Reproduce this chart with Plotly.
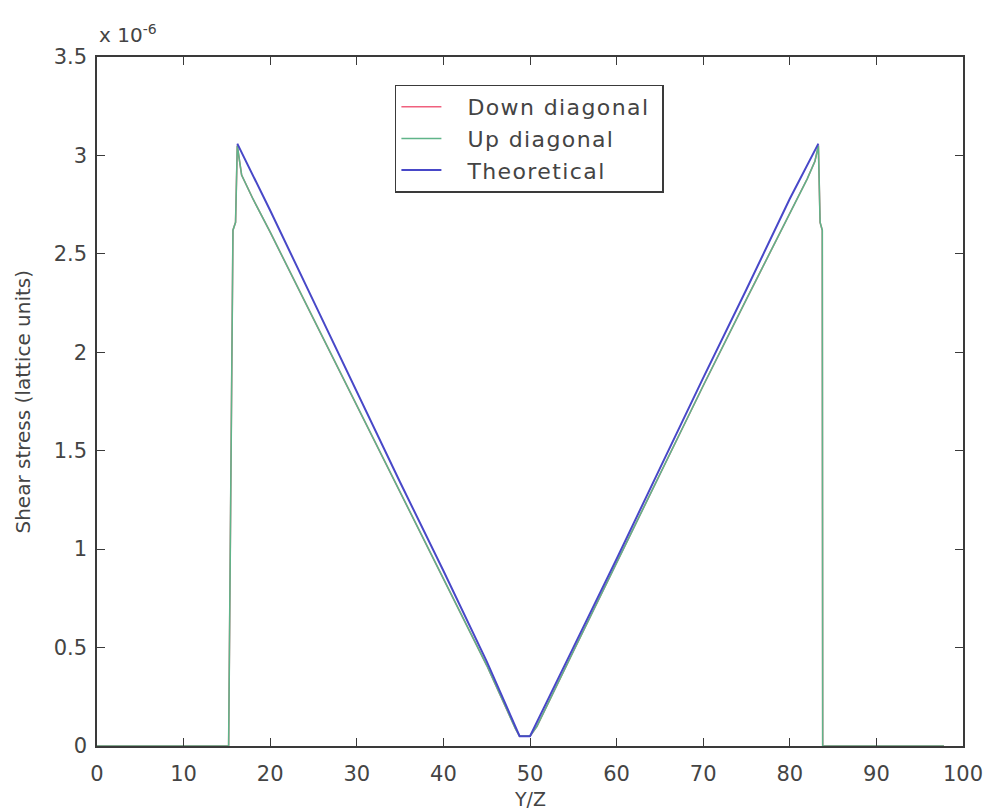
import plotly.graph_objects as go

# Position across the channel (Y/Z) and shear stress in units of 1e-6 (lattice units)
up_x = [0, 15.2, 15.7, 16.0, 16.2, 16.7, 18, 20, 25, 30, 35, 40, 45, 48.3, 48.8,
        50.0, 50.8, 55, 60, 65, 70, 75, 80, 82, 82.9, 83.3, 83.5, 83.75, 83.8, 97.8]
up_tau = [0, 0, 2.62, 2.66, 3.05, 2.90, 2.78, 2.61, 2.17, 1.73, 1.29, 0.85, 0.41, 0.09, 0.05,
          0.05, 0.10, 0.48, 0.93, 1.38, 1.83, 2.27, 2.71, 2.88, 2.97, 3.05, 2.66, 2.62, 0, 0]

down_x = [0, 15.2, 15.7, 16.0, 16.2, 16.7, 18, 20, 25, 30, 35, 40, 45, 48.3, 48.8,
          50.0, 50.8, 55, 60, 65, 70, 75, 80, 82, 82.9, 83.3, 83.5, 83.75, 83.8, 97.8]
down_tau = [0, 0, 2.62, 2.66, 3.05, 2.90, 2.78, 2.61, 2.17, 1.73, 1.29, 0.85, 0.41, 0.09, 0.05,
            0.05, 0.10, 0.48, 0.93, 1.38, 1.83, 2.27, 2.71, 2.88, 2.97, 3.05, 2.66, 2.62, 0, 0]

theory_x = [16.2, 20, 25, 30, 35, 40, 45, 48.8, 50.0, 55, 60, 65, 70, 75, 80, 83.3]
theory_tau = [3.06, 2.72, 2.26, 1.80, 1.34, 0.89, 0.43, 0.05, 0.05, 0.50, 0.95, 1.41,
              1.87, 2.32, 2.78, 3.06]

x_ticks = list(range(0, 101, 10))
y_ticks = [0, 0.5, 1, 1.5, 2, 2.5, 3, 3.5]

FONT = "DejaVu Sans, Verdana, sans-serif"
AXIS_COLOR = "#3a3a3a"
TEXT_COLOR = "#444444"
PAD = "\u00a0\u00a0\u00a0"


def entry(label):
    # widely spaced legend text, as in the original MATLAB figure
    return PAD + '<span style="letter-spacing:1.4px">' + label + "</span>\u00a0"


fig = go.Figure()
fig.add_trace(go.Scatter(x=down_x, y=down_tau, mode="lines", name=entry("Down diagonal"),
                         line=dict(color="#f0607e", width=1.5)))
fig.add_trace(go.Scatter(x=up_x, y=up_tau, mode="lines", name=entry("Up diagonal"),
                         line=dict(color="#5fb489", width=1.6)))
fig.add_trace(go.Scatter(x=theory_x, y=theory_tau, mode="lines", name=entry("Theoretical"),
                         line=dict(color="#4848c8", width=2)))

axis_common = dict(
    showline=True, linecolor=AXIS_COLOR, linewidth=1.5, mirror="ticks",
    ticks="inside", ticklen=8, tickwidth=1.3, tickcolor=AXIS_COLOR,
    showgrid=False, zeroline=False, automargin=False,
    tickfont=dict(family=FONT, size=21, color=TEXT_COLOR),
)

fig.update_xaxes(range=[0, 100], tickvals=x_ticks, ticktext=[str(v) for v in x_ticks],
                 ticklabelstandoff=8, **axis_common)
fig.update_yaxes(range=[0, 3.5], tickvals=y_ticks, ticktext=[f"{v:g}" for v in y_ticks],
                 ticklabelstandoff=4, **axis_common)

fig.update_layout(
    width=985, height=812,
    margin=dict(l=97, r=22, t=57, b=66),
    paper_bgcolor="white", plot_bgcolor="white",
    font=dict(family=FONT, color=TEXT_COLOR),
    showlegend=True,
    legend=dict(x=0.344, y=0.96, xanchor="left", yanchor="top",
                bgcolor="white", bordercolor=AXIS_COLOR, borderwidth=1.5,
                font=dict(family=FONT, size=22, color=TEXT_COLOR),
                tracegroupgap=0, itemwidth=40),
    annotations=[
        dict(text="x 10<sup>-6</sup>", x=0, y=1, xref="paper", yref="paper",
             xanchor="left", yanchor="bottom", yshift=8, showarrow=False,
             font=dict(family=FONT, size=20, color=TEXT_COLOR)),
        dict(text="Shear stress (lattice units)", x=0, y=0.5, xref="paper", yref="paper",
             xanchor="center", yanchor="middle", xshift=-75, textangle=-90, showarrow=False,
             font=dict(family=FONT, size=20, color=TEXT_COLOR)),
        dict(text="Y/Z", x=0.5, y=0, xref="paper", yref="paper",
             xanchor="center", yanchor="top", yshift=-40, showarrow=False,
             font=dict(family=FONT, size=19, color=TEXT_COLOR)),
    ],
)

fig.write_html("out.html")
